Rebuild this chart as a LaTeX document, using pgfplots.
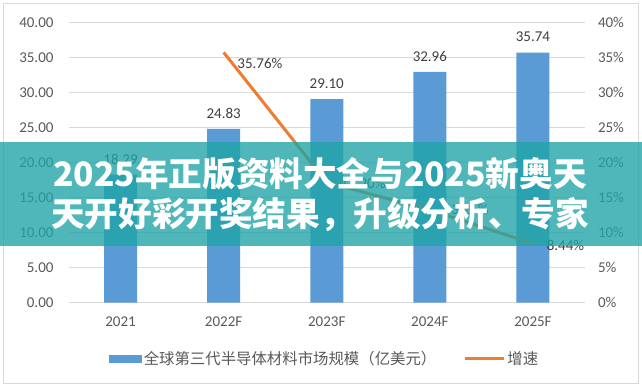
\documentclass[border=0pt]{standalone}
\usepackage{pgfplots}
\pgfplotsset{compat=1.18}
\usepackage{pgfplotstable}
\usepackage{fontspec}
\setmainfont{Carlito}
\newfontfamily\cjk{Noto Sans CJK SC}
\definecolor{barblue}{HTML}{5B9BD5}
\definecolor{lineorange}{HTML}{ED7D31}
\definecolor{gridgray}{HTML}{D9D9D9}
\definecolor{txtgray}{HTML}{595959}
\definecolor{lblgray}{HTML}{404040}
\definecolor{frame}{HTML}{D9D9D9}
\definecolor{banner}{RGB}{30,164,166}

\pgfplotstableread{
x y
0 18.29
1 24.83
2 29.10
3 32.96
4 35.74
}\bars

\pgfplotstableread{
x y lab dy
1 35.76 35.76\% -11
2 17.20 17.20\% -1
3 13.26 13.26\% 0
4 8.44 8.44\% -1.5
}\growth

\begin{document}
\begin{tikzpicture}[x=1pt,y=1pt]
\path[use as bounding box] (0,0) rectangle (642,389);
\fill[white] (0,0) rectangle (642,389);
\draw[frame, line width=1pt] (3.5,5.5) rectangle (638.5,385.5);

\begin{axis}[
  at={(69pt,86.3pt)}, anchor=south west,
  scale only axis, width=515.5pt, height=280pt,
  xmin=-0.5, xmax=4.5, ymin=0, ymax=40,
  xtick={0,1,2,3,4},
  xticklabels={2021,2022F,2023F,2024F,2025F},
  ytick={0,5,...,40},
  axis line style={draw=none},
  major tick length=0pt,
  ymajorgrids, grid style={gridgray, line width=0.9pt},
  tick label style={font=\fontsize{15}{18}\selectfont, text=txtgray},
  yticklabel style={/pgf/number format/fixed, /pgf/number format/fixed zerofill, /pgf/number format/precision=2, /pgf/number format/assume math mode=true, xshift=-12pt},
  xticklabel style={yshift=-11pt},
  legend style={at={(0.4956,-0.201)}, anchor=center, draw=none, fill=none,
    font=\cjk\fontsize{15.4}{18}\selectfont, text=txtgray,
    legend columns=2,
    /tikz/every even column/.append style={column sep=25pt}},
  legend cell align=left,
]
\addplot[ybar, bar width=33pt, fill=barblue, draw=none,
  nodes near coords,
  every node near coord/.append style={font=\fontsize{15}{18}\selectfont, text=lblgray, yshift=7pt,
    /pgf/number format/fixed, /pgf/number format/fixed zerofill, /pgf/number format/precision=2, /pgf/number format/assume math mode=true},
  legend image code/.code={\fill[barblue] (0pt,-4pt) rectangle (33pt,4pt);}
] table[x=x,y=y] {\bars};
\addlegendentry{全球第三代半导体材料市场规模（亿美元）}
\addlegendimage{legend image code/.code={\draw[lineorange, line width=3pt] (0pt,0pt) -- (39pt,0pt);}}
\addlegendentry{增速}
\end{axis}

\begin{axis}[
  at={(69pt,86.3pt)}, anchor=south west,
  scale only axis, width=515.5pt, height=280pt,
  xmin=-0.5, xmax=4.5, ymin=0, ymax=40,
  axis x line=none,
  axis y line*=right,
  axis line style={draw=none},
  major tick length=0pt,
  ytick={0,5,...,40},
  yticklabel={\pgfmathprintnumber[assume math mode=true]{\tick}\%},
  tick label style={font=\fontsize{15}{18}\selectfont, text=txtgray},
  yticklabel style={xshift=10pt},
]
\addplot[lineorange, line width=3pt, mark=none,
  nodes near coords,
  point meta=explicit symbolic,
  visualization depends on={\thisrow{dy} \as \dy},
  every node near coord/.append style={font=\fontsize{15}{18}\selectfont, text=lblgray, anchor=west, xshift=9pt, yshift=\dy pt}
] table[x=x,y=y,meta=lab] {\growth};
\end{axis}

\fill[banner, opacity=0.78] (0,143) rectangle (642,247);
\node[text=white, align=center, font=\cjk\bfseries\fontsize{33.6}{40}\selectfont] at (320,194)
  {2025年正版资料大全与2025新奥天\\天开好彩开奖结果，升级分析、专家};
\end{tikzpicture}
\end{document}
